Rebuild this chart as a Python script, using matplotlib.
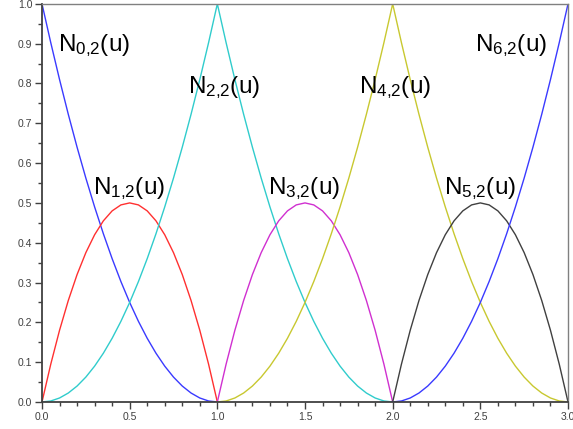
import matplotlib
matplotlib.use('Agg')
from matplotlib import pyplot as plt
from matplotlib.ticker import MultipleLocator, FormatStrFormatter

t = [0.0, 0.05, 0.1, 0.15, 0.2, 0.25, 0.3, 0.35, 0.4, 0.45, 0.5,
     0.55, 0.6, 0.65, 0.7, 0.75, 0.8, 0.85, 0.9, 0.95, 1.0]
u0 = t
u1 = [1.0 + v for v in t]
u2 = [2.0 + v for v in t]
u01 = u0 + u1[1:]
u12 = u1 + u2[1:]

fall = [1.0, 0.9025, 0.81, 0.7225, 0.64, 0.5625, 0.49, 0.4225, 0.36, 0.3025,
        0.25, 0.2025, 0.16, 0.1225, 0.09, 0.0625, 0.04, 0.0225, 0.01, 0.0025,
        0.0]
hump = [0.0, 0.095, 0.18, 0.255, 0.32, 0.375, 0.42, 0.455, 0.48, 0.495,
        0.5, 0.495, 0.48, 0.455, 0.42, 0.375, 0.32, 0.255, 0.18, 0.095, 0.0]
rise = [0.0, 0.0025, 0.01, 0.0225, 0.04, 0.0625, 0.09, 0.1225, 0.16, 0.2025,
        0.25, 0.3025, 0.36, 0.4225, 0.49, 0.5625, 0.64, 0.7225, 0.81, 0.9025,
        1.0]

n0 = fall
n1 = hump
n2 = rise + fall[1:]
n3 = hump
n4 = rise + fall[1:]
n5 = hump
n6 = rise

labels = ['0{,}2', '1{,}2', '2{,}2', '3{,}2', '4{,}2', '5{,}2', '6{,}2']
label_x = [0.09, 0.29, 0.83, 1.29, 1.81, 2.29, 2.47]
label_y = [0.895, 0.535, 0.79, 0.535, 0.79, 0.535, 0.895]

plt.rcParams['font.family'] = ['Liberation Sans', 'DejaVu Sans']
plt.rcParams['mathtext.fontset'] = 'custom'
plt.rcParams['mathtext.rm'] = 'Liberation Sans'
plt.rcParams['mathtext.it'] = 'Liberation Sans'

fig = plt.figure(figsize=(5.73, 4.29), dpi=100)
ax = fig.add_axes([0.0733, 0.063, 0.918, 0.928])

series = [(u0, n0, '#3a3aff'), (u0, n1, '#ff3030'), (u01, n2, '#30cccc'),
          (u1, n3, '#d030d0'), (u12, n4, '#c8c830'), (u2, n5, '#404040'),
          (u2, n6, '#3a3aff')]
for x, y, c in series:
    ax.plot(x, y, color=c, lw=1.0)

for lab, x, y in zip(labels, label_x, label_y):
    ax.text(x, y, r'$\mathregular{N_{%s}(u)}$' % lab, fontsize=17.5,
            va='center', ha='left', color='black')

ax.set_xlim(0, 3)
ax.set_ylim(0, 1)
ax.xaxis.set_major_locator(MultipleLocator(0.5))
ax.xaxis.set_minor_locator(MultipleLocator(0.1))
ax.yaxis.set_major_locator(MultipleLocator(0.1))
ax.yaxis.set_minor_locator(MultipleLocator(0.05))
ax.xaxis.set_major_formatter(FormatStrFormatter('%.1f'))
ax.yaxis.set_major_formatter(FormatStrFormatter('%.1f'))
ax.tick_params(which='major', length=5, width=1, color='#404040',
               labelsize=7.5, labelcolor='#404040', pad=2)
ax.tick_params(which='minor', length=3, width=1, color='#404040')

for side in ['left', 'bottom']:
    ax.spines[side].set_color('#404040')
    ax.spines[side].set_linewidth(1.3)
for side in ['top', 'right']:
    ax.spines[side].set_color('#808080')
    ax.spines[side].set_linewidth(1.0)

fig.savefig('out.png', dpi=100)
